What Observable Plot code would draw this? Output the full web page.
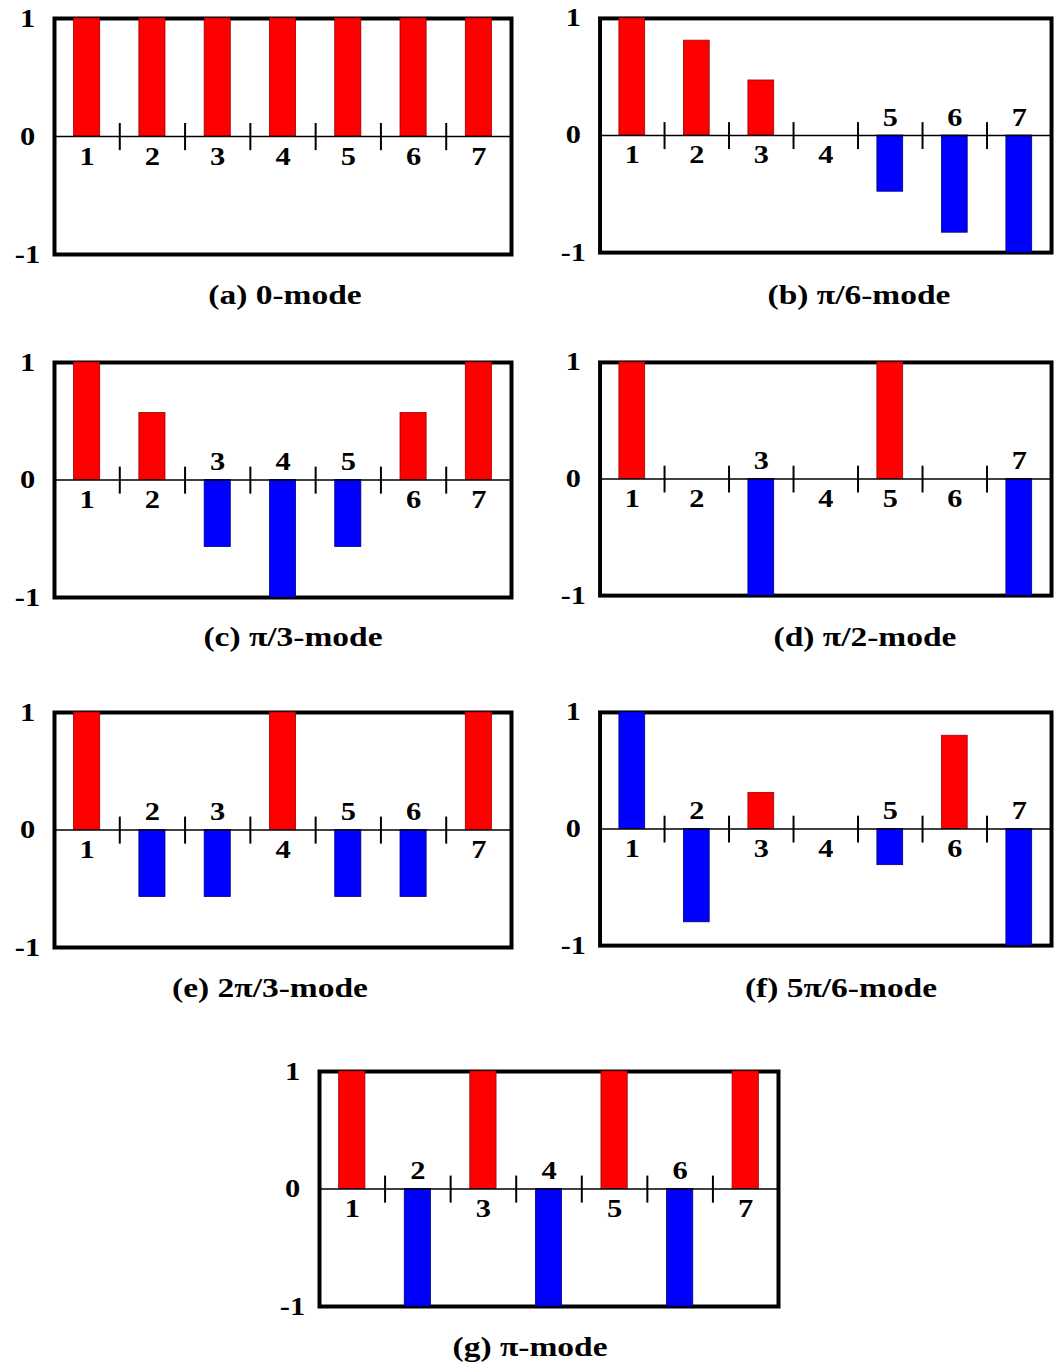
<!DOCTYPE html>
<html>
<head>
<meta charset="utf-8">
<script src="https://cdn.jsdelivr.net/npm/d3@7"></script>
<script src="https://cdn.jsdelivr.net/npm/@observablehq/plot@0.6"></script>
<style>
  html, body { margin: 0; padding: 0; background: #fff; }
  #root { position: relative; width: 1057px; height: 1366px; overflow: hidden; background: #fff; }
  .panel { position: absolute; }
  .cap { position: absolute; font-family: "Liberation Serif", "Times New Roman", serif; font-weight: bold;
         font-size: 27px; line-height: 1; white-space: nowrap; color: #000;
         transform: translate(-50%, -50%) scaleX(1.24); }
</style>
</head>
<body>
<div id="root"></div>
<script>
// ---------- data ----------
const categories = [1, 2, 3, 4, 5, 6, 7];
const yTicks = [-1, 0, 1];
const yTickLabels = ["-1", "0", "1"];

const captions = ["(a) 0-mode", "(b) π/6-mode", "(c) π/3-mode", "(d) π/2-mode",
                  "(e) 2π/3-mode", "(f) 5π/6-mode", "(g) π-mode"];

const valuesA = [1, 1, 1, 1, 1, 1, 1];
const valuesB = [1, 0.81, 0.47, 0, -0.48, -0.83, -1];
const valuesC = [1, 0.57, -0.57, -1, -0.57, 0.57, 1];
const valuesD = [1, 0, -1, 0, 1, 0, -1];
const valuesE = [1, -0.57, -0.57, 1, -0.57, -0.57, 1];
const valuesF = [1, -0.8, 0.31, 0, -0.31, 0.8, -1];
const valuesG = [1, -1, 1, -1, 1, -1, 1];

const colorsA = ["red", "red", "red", "red", "red", "red", "red"];
const colorsB = ["red", "red", "red", "red", "blue", "blue", "blue"];
const colorsC = ["red", "red", "blue", "blue", "blue", "red", "red"];
const colorsD = ["red", "red", "blue", "blue", "red", "red", "blue"];
const colorsE = ["red", "blue", "blue", "red", "blue", "blue", "red"];
const colorsF = ["blue", "blue", "red", "red", "blue", "red", "blue"];
const colorsG = ["red", "blue", "red", "blue", "red", "blue", "red"];

const seriesValues = [valuesA, valuesB, valuesC, valuesD, valuesE, valuesF, valuesG];
const seriesColors = [colorsA, colorsB, colorsC, colorsD, colorsE, colorsF, colorsG];

// ---------- layout (positions of each panel's frame and caption) ----------
const layout = [
  {fl: 54,  ft: 18,   fw: 457, fh: 236, cx: 285, cy: 295},
  {fl: 600, ft: 18,   fw: 455, fh: 236, cx: 859, cy: 295},
  {fl: 54,  ft: 362,  fw: 457, fh: 235, cx: 293, cy: 637},
  {fl: 600, ft: 362,  fw: 455, fh: 235, cx: 865, cy: 637},
  {fl: 54,  ft: 712,  fw: 457, fh: 235, cx: 270, cy: 988},
  {fl: 600, ft: 712,  fw: 455, fh: 235, cx: 841, cy: 988},
  {fl: 319, ft: 1071, fw: 459, fh: 235, cx: 530, cy: 1347}
];

const fillMap = {red: "#ff0000", blue: "#0000ff"};
const strokeMap = {red: "#9a0000", blue: "#00007a"};
const boundaries = categories.slice(1).map(n => n - 0.5);
const halfBar = 0.2;
const textStretch = 1.22;
const font = "'Liberation Serif', 'Times New Roman', serif";
const labelSize = 25;

const root = document.getElementById("root");
const ml = 60, mr = 6, mt = 10, mb = 10;

seriesValues.forEach((vals, p) => {
  const L = layout[p];
  const data = categories.map((n, i) => ({n, v: vals[i], c: seriesColors[p][i]}));
  const chart = Plot.plot({
    width: ml + L.fw + mr,
    height: mt + L.fh + mb,
    marginLeft: ml, marginRight: mr, marginTop: mt, marginBottom: mb,
    style: {fontFamily: font, background: "transparent", overflow: "visible"},
    x: {domain: [0.5, 7.5], axis: null},
    y: {domain: [-1, 1], axis: null},
    marks: [
      Plot.frame({stroke: "#000", strokeWidth: 4}),
      Plot.rect(data, {
        x1: d => d.n - halfBar, x2: d => d.n + halfBar, y1: 0, y2: "v",
        fill: d => fillMap[d.c], stroke: d => strokeMap[d.c], strokeWidth: 0.8
      }),
      Plot.ruleY([0], {stroke: "#000", strokeWidth: 1.5}),
      Plot.ruleX(boundaries, {x: d => d, y1: 0.11, y2: -0.12, stroke: "#000", strokeWidth: 2}),
      Plot.text(data.filter(d => d.v >= 0), {
        x: "n", y: 0, text: d => String(d.n), dy: 20,
        fontSize: labelSize, fontWeight: "bold", fill: "#000"
      }),
      Plot.text(data.filter(d => d.v < 0), {
        x: "n", y: 0, text: d => String(d.n), dy: -18,
        fontSize: labelSize, fontWeight: "bold", fill: "#000"
      }),
      Plot.text(yTicks, {
        y: d => d, text: (d, i) => yTickLabels[i], frameAnchor: "left", dx: -27,
        textAnchor: "middle", fontSize: labelSize, fontWeight: "bold", fill: "#000"
      })
    ]
  });
  // horizontally stretch glyphs to match the wide serif lettering of the reference
  chart.querySelectorAll("text").forEach(t => {
    const tr = t.getAttribute("transform");
    if (tr) {
      t.setAttribute("transform", tr + ` scale(${textStretch},1)`);
    } else {
      const x = +t.getAttribute("x") || 0, y = +t.getAttribute("y") || 0;
      t.removeAttribute("x"); t.removeAttribute("y");
      t.setAttribute("transform", `translate(${x},${y}) scale(${textStretch},1)`);
    }
  });
  const wrap = document.createElement("div");
  wrap.className = "panel";
  wrap.style.left = (L.fl - ml) + "px";
  wrap.style.top = (L.ft - mt) + "px";
  wrap.appendChild(chart);
  root.appendChild(wrap);

  const cap = document.createElement("div");
  cap.className = "cap";
  cap.style.left = L.cx + "px";
  cap.style.top = L.cy + "px";
  cap.textContent = captions[p];
  root.appendChild(cap);
});
</script>
</body>
</html>
